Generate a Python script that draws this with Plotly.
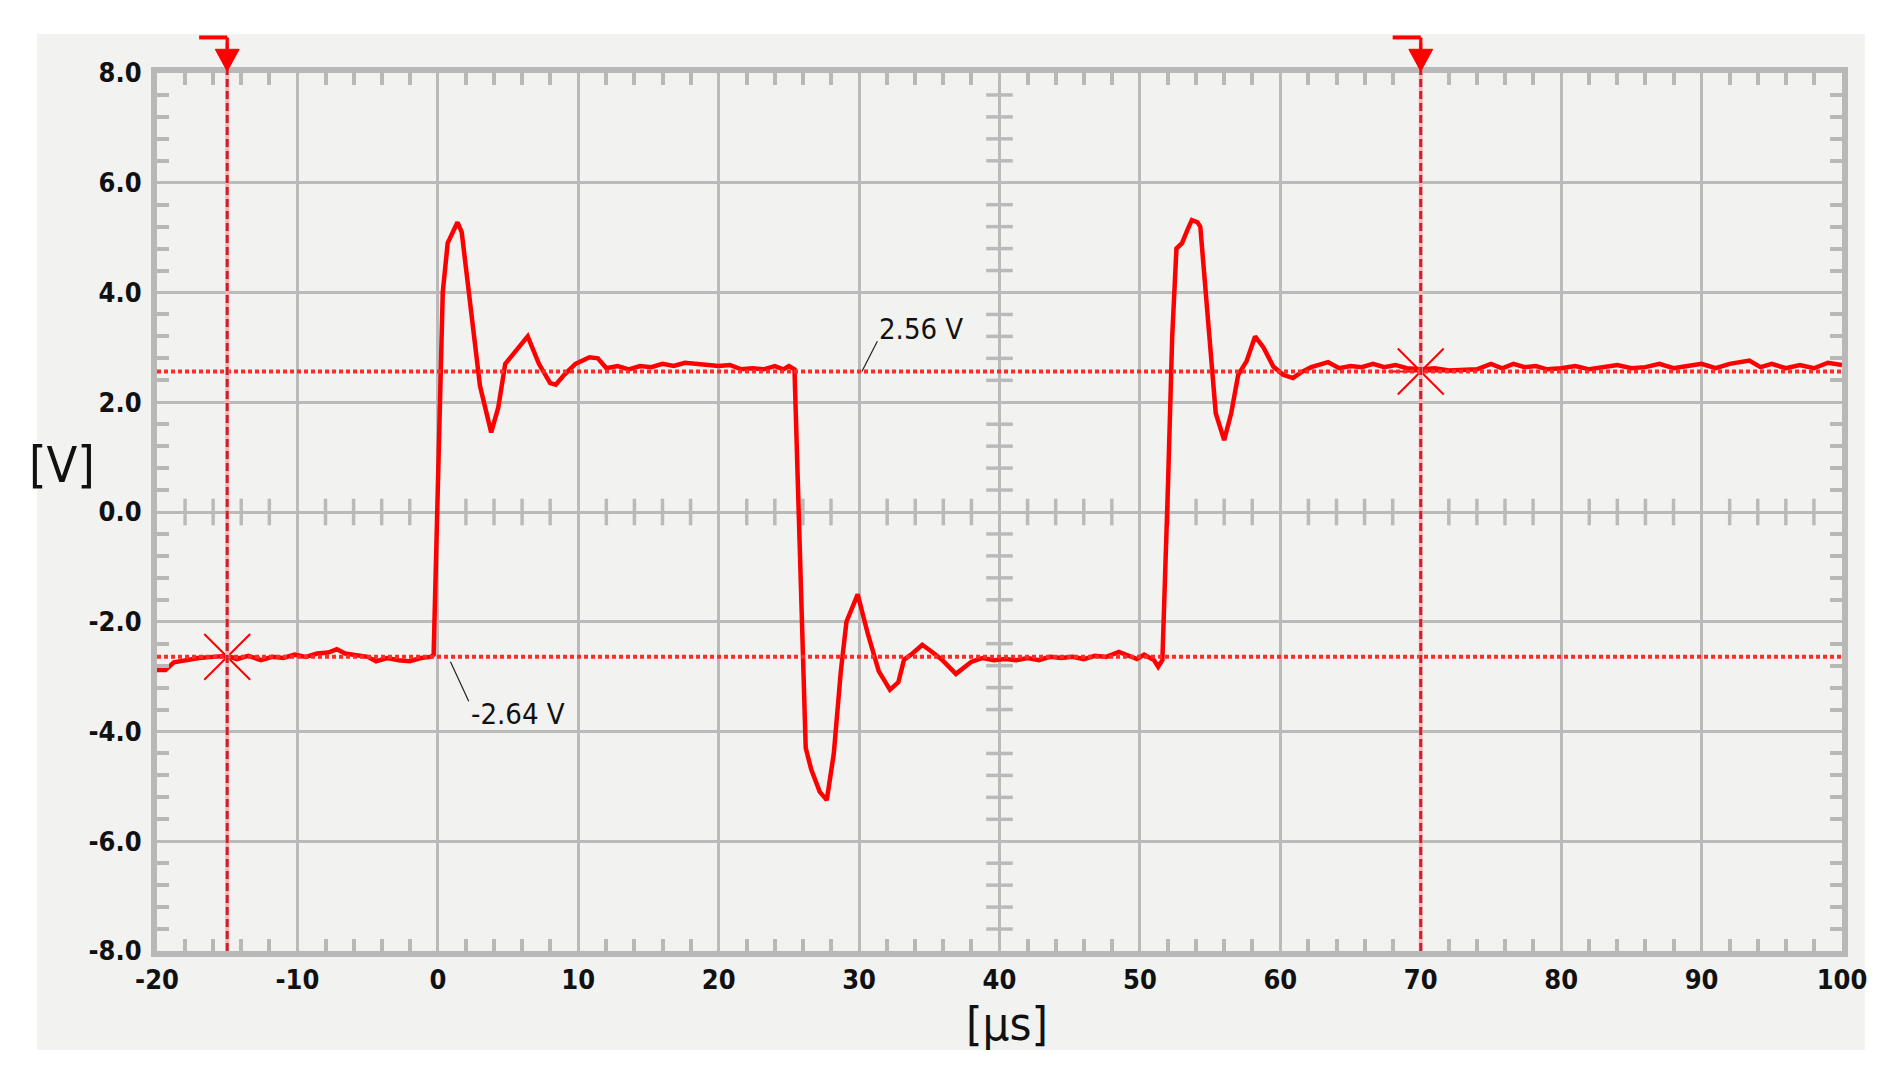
import numpy as np
import plotly.graph_objects as go

# ---------------- data ----------------
time_us = [
    -20, -19.4, -18.8, -18, -17, -16, -15, -14.3, -13.5, -12.6, -11.8, -11, -10.2, -9.4, -8.6, -7.8,
    -7.2, -6.6, -5.8, -5, -4.4, -3.6, -2.8, -2, -1.2, -0.5, -0.3,
    0.0, 0.2, 0.35, 0.7, 1.0, 1.4, 1.7, 3.0, 3.8, 4.3, 4.8, 5.4, 6.4, 7.2, 8.0, 8.4, 9.0, 9.8, 10.8,
    11.4, 12.0, 12.8, 13.6, 14.4, 15.2, 16, 16.8, 17.6, 18.4, 19.2, 20, 20.8, 21.6, 22.4, 23.2, 24,
    24.6, 25.0, 25.4,
    25.7, 26.2, 26.6, 27.2, 27.7, 28.2, 28.7, 29.1, 29.9, 30.6, 31.4, 32.2, 32.8, 33.2, 33.7, 34.5,
    35.2, 35.9, 36.9, 38.0, 38.8, 39.6, 40.4, 41.2, 42, 42.8, 43.6, 44.4, 45.2, 46, 46.8, 47.6, 48.5,
    49.2, 49.8, 50.3, 51.0, 51.3, 51.6, 52.0, 52.3, 52.6, 53.0, 53.4, 53.7, 54.1, 54.3, 55.4, 56.0,
    56.5, 57.0, 57.6, 58.2, 58.8, 59.5, 60.2, 60.9, 61.5, 62.2, 63.4, 64.2, 65.0, 65.8, 66.6, 67.4,
    68.2, 69.0, 70, 71, 72, 73, 74, 75, 75.8, 76.6, 77.4, 78.2, 79, 80, 81, 82, 83, 84, 85, 86, 87,
    88, 89, 90, 91, 92, 93.4, 94.2, 95, 96, 97, 98, 99, 100,
]
voltage_v = [
    -2.88, -2.88, -2.74, -2.70, -2.66, -2.64, -2.62, -2.68, -2.62, -2.70, -2.64, -2.66, -2.60, -2.64,
    -2.58, -2.56, -2.50, -2.58, -2.60, -2.64, -2.72, -2.66, -2.70, -2.72, -2.66, -2.64, -2.60,
    0.5, 3.0, 4.0, 4.9, 5.05, 5.28, 5.1, 2.3, 1.45, 1.9, 2.7, 2.9, 3.2, 2.7, 2.35, 2.32, 2.5, 2.7, 2.82,
    2.8, 2.62, 2.66, 2.60, 2.66, 2.64, 2.70, 2.66, 2.72, 2.70, 2.70, 2.66, 2.68, 2.60, 2.62, 2.60, 2.66,
    2.60, 2.66, 2.60,
    0.0, -4.3, -4.7, -5.1, -5.25, -4.4, -2.9, -2.0, -1.5, -2.2, -2.9, -3.24, -3.1, -2.69, -2.6, -2.42,
    -2.55, -2.69, -2.95, -2.73, -2.66, -2.70, -2.68, -2.70, -2.66, -2.70, -2.64, -2.66, -2.64, -2.68,
    -2.62, -2.64, -2.55, -2.62, -2.68, -2.60, -2.70, -2.82, -2.70, 0.5, 3.2, 4.8, 4.9, 5.15, 5.32,
    5.28, 5.2, 1.8, 1.31, 1.8, 2.5, 2.75, 3.2, 3.0, 2.65, 2.5, 2.44, 2.55, 2.64, 2.73, 2.62, 2.66, 2.64,
    2.70, 2.64, 2.68, 2.62, 2.60, 2.62, 2.58, 2.58, 2.60, 2.70, 2.62, 2.70, 2.64, 2.66, 2.60, 2.62,
    2.66, 2.60, 2.64, 2.68, 2.62, 2.64, 2.70, 2.62, 2.66, 2.70, 2.62, 2.70, 2.76, 2.64, 2.70, 2.62,
    2.68, 2.62, 2.72, 2.68,
]
x_ticks = [-20, -10, 0, 10, 20, 30, 40, 50, 60, 70, 80, 90, 100]
y_ticks = [8.0, 6.0, 4.0, 2.0, 0.0, -2.0, -4.0, -6.0, -8.0]

cursor_times = [-15, 70]
cursor_levels = [2.56, -2.64]
cursor_labels = ["2.56 V", "-2.64 V"]

# ---------------- style ----------------
GRID = "#bababa"
FRAME = "#b8b8b8"
PANEL = "#f2f2f1"
RED = "#ff0000"
FONT = "DejaVu Sans Condensed, DejaVu Sans, sans-serif"

fig = go.Figure()

# center crosshair tick marks (on y=0 and x=40)
minor_x = [float(t) for t in np.arange(-20, 100.01, 2) if t % 10 != 0]
minor_y = [round(float(v), 2) for v in np.arange(-8, 8.01, 0.4)
           if abs(v / 2 - round(v / 2)) > 1e-6]
fig.add_trace(go.Scatter(x=minor_x, y=[0] * len(minor_x), mode="markers",
                         marker=dict(symbol="line-ns", size=19, color=GRID,
                                     line=dict(color=GRID, width=3.5)),
                         hoverinfo="skip", showlegend=False))
fig.add_trace(go.Scatter(x=[40] * len(minor_y), y=minor_y, mode="markers",
                         marker=dict(symbol="line-ew", size=19, color=GRID,
                                     line=dict(color=GRID, width=3.5)),
                         hoverinfo="skip", showlegend=False))

# signal
fig.add_trace(go.Scatter(x=time_us, y=voltage_v, mode="lines",
                         line=dict(color=RED, width=4.5), showlegend=False))

# cursor asterisks
fig.add_trace(go.Scatter(x=cursor_times, y=[cursor_levels[1], cursor_levels[0]], mode="markers",
                         marker=dict(symbol="asterisk-open", size=54, color=RED,
                                     line=dict(color=RED, width=2)),
                         showlegend=False, cliponaxis=False))

# gray panel
fig.add_shape(type="rect", xref="paper", yref="paper", x0=-0.0712, x1=1.0136, y0=-0.1128,
              y1=1.0444, fillcolor=PANEL, line=dict(width=0), layer="below")

# horizontal cursors
for lv in cursor_levels:
    fig.add_shape(type="line", xref="x", yref="y", x0=x_ticks[0], x1=x_ticks[-1], y0=lv, y1=lv,
                  line=dict(color="#ff2a2a", width=4, dash="4px,3px"), layer="above")

# vertical cursors with flag + triangle
for t in cursor_times:
    fig.add_shape(type="line", xref="x", yref="paper", x0=t, x1=t, y0=0, y1=1.04,
                  line=dict(color="#f7b4b4", width=4), layer="above")
    fig.add_shape(type="line", xref="x", yref="paper", x0=t, x1=t, y0=0, y1=1.04,
                  line=dict(color="#cc1f2e", width=3, dash="8px,4px"), layer="above")
    fig.add_shape(type="line", xref="x", yref="paper", x0=t - 2.0, x1=t, y0=1.0405, y1=1.0405,
                  line=dict(color=RED, width=4), layer="above")
    fig.add_shape(type="line", xref="x", yref="paper", x0=t, x1=t, y0=1.0405, y1=1.02,
                  line=dict(color=RED, width=3), layer="above")
    fig.add_shape(type="path", xref="x", yref="paper",
                  path=f"M {t-0.85} 1.027 L {t+0.85} 1.027 L {t} 1.002 Z",
                  fillcolor=RED, line=dict(color=RED, width=1), layer="above")

# leader lines for level labels
fig.add_shape(type="line", xref="x", yref="y", x0=30.2, y0=2.56, x1=31.3, y1=3.11,
              line=dict(color="#222", width=1.2))
fig.add_shape(type="line", xref="x", yref="y", x0=0.9, y0=-2.73, x1=2.2, y1=-3.45,
              line=dict(color="#222", width=1.2))

fig.add_annotation(x=31.3, y=3.33, xref="x", yref="y", text=cursor_labels[0], showarrow=False,
                   xanchor="left", yanchor="middle", font=dict(family=FONT, size=29, color="#111"))
fig.add_annotation(x=2.2, y=-3.69, xref="x", yref="y", text=cursor_labels[1], showarrow=False,
                   xanchor="left", yanchor="middle", font=dict(family=FONT, size=29, color="#111"))

# axis titles
fig.add_annotation(x=-0.0564, y=0.5535, xref="paper", yref="paper", text="[V]", showarrow=False,
                   xanchor="center", yanchor="middle", font=dict(family=FONT, size=50, color="#111"))
fig.add_annotation(x=0.5045, y=-0.083, xref="paper", yref="paper", text="[μs]", showarrow=False,
                   xanchor="center", yanchor="middle", font=dict(family=FONT, size=47, color="#111"))

axis_common = dict(showgrid=True, gridcolor=GRID, gridwidth=3, zeroline=False,
                   showline=True, linecolor=FRAME, linewidth=6, mirror="ticks", ticks="",
                   tickfont=dict(family=FONT, size=27, color="#111", weight="bold"))

fig.update_xaxes(range=[-20, 100], tickvals=x_ticks, ticktext=[str(v) for v in x_ticks],
                 ticklabelstandoff=0,
                 minor=dict(tickvals=minor_x, ticks="inside", ticklen=12, tickwidth=4,
                            tickcolor=FRAME, showgrid=False),
                 **axis_common)
fig.update_yaxes(range=[-8, 8], tickvals=y_ticks, ticktext=[f"{v:.1f}" for v in y_ticks],
                 ticklabelstandoff=4,
                 minor=dict(tickvals=minor_y, ticks="inside", ticklen=12, tickwidth=4,
                            tickcolor=FRAME, showgrid=False),
                 **axis_common)

fig.update_layout(width=1899, height=1083, margin=dict(l=157, r=57, t=73, b=132),
                  paper_bgcolor="white", plot_bgcolor=PANEL, showlegend=False)

fig.write_html("out.html", config={"displayModeBar": False},
               post_script="document.body.style.margin='0px';document.body.style.overflow='hidden';")
